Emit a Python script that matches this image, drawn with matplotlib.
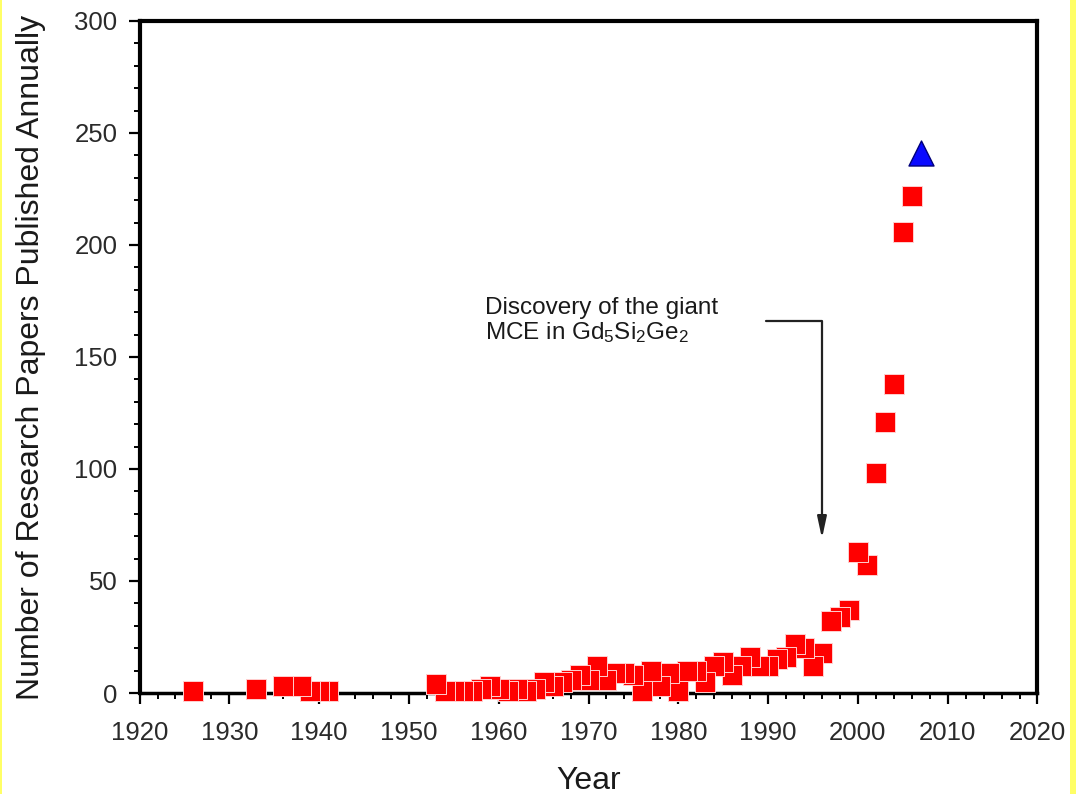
import matplotlib
matplotlib.use("Agg")
import matplotlib.pyplot as plt
from matplotlib.patches import Rectangle
from matplotlib.ticker import MultipleLocator

plt.rcParams['font.family'] = ['Liberation Sans', 'DejaVu Sans']
plt.rcParams['mathtext.default'] = 'regular'

# Annual paper counts (red squares) and the projected count for 2007 (blue triangle)
years = [1926, 1933, 1936, 1938, 1939, 1940, 1941,
         1953, 1954, 1955, 1956, 1957, 1958, 1959, 1960, 1961, 1962, 1963, 1964,
         1965, 1966, 1967, 1968, 1969, 1970, 1971, 1972, 1973, 1974, 1975, 1976,
         1977, 1978, 1979, 1980, 1981, 1982, 1983, 1984, 1985, 1986, 1987, 1988,
         1989, 1990, 1991, 1992, 1993, 1994, 1995, 1996, 1997, 1998, 1999,
         2000, 2001, 2002, 2003, 2004, 2005, 2006]
papers = [1, 2, 3, 3, 1, 1, 1,
          4, 1, 1, 1, 1, 2, 3, 2, 1, 2, 1, 2,
          5, 3, 5, 6, 8, 6, 12, 6, 9, 9, 8, 1,
          10, 3, 9, 1, 10, 10, 5, 12, 14, 8, 12, 16,
          12, 12, 15, 16, 22, 20, 12, 18, 32, 34, 37,
          63, 57, 98, 121, 138, 206, 222]
proj_year = [2007]
proj_papers = [241]

x_ticks = list(range(1920, 2021, 10))
y_ticks = list(range(0, 301, 50))

fig = plt.figure(figsize=(10.76, 7.94), dpi=100)
fig.patch.set_facecolor('white')
# yellow side strips of the slide
fig.add_artist(Rectangle((0, 0), 2 / 1076, 1, transform=fig.transFigure,
                         facecolor='#ffff66', edgecolor='none', zorder=0))
fig.add_artist(Rectangle((1070 / 1076, 0), 6 / 1076, 1, transform=fig.transFigure,
                         facecolor='#ffff66', edgecolor='none', zorder=0))

ax = fig.add_axes([0.1297, 0.1272, 0.9642 - 0.1297, 0.9736 - 0.1272])

# earlier years are layered on top of later ones
ax.scatter(years[::-1], papers[::-1], marker='s', s=14.5 ** 2, c='#ff0000',
           edgecolors='#ffd0d0', linewidths=0.7, zorder=3, clip_on=False)
ax.scatter(proj_year, proj_papers, marker='^', s=18 ** 2, c='#0a0aff',
           edgecolors='#00007a', linewidths=1.0, zorder=3, clip_on=False)

ax.set_xlim(x_ticks[0], x_ticks[-1])
ax.set_ylim(y_ticks[0], y_ticks[-1])
ax.set_xticks(x_ticks)
ax.set_yticks(y_ticks)
ax.xaxis.set_minor_locator(MultipleLocator(2))
ax.yaxis.set_minor_locator(MultipleLocator(10))

for side in ax.spines.values():
    side.set_linewidth(3)
    side.set_color('black')
ax.spines['bottom'].set_linewidth(2.5)
ax.tick_params(which='major', direction='out', length=8, width=1.6,
               colors='black', labelcolor='#2a2a2a', labelsize=18.5)
ax.tick_params(which='minor', direction='out', length=4, width=1.4, colors='black')
ax.tick_params(axis='x', which='major', pad=12)
ax.tick_params(axis='y', which='major', pad=8)
ax.tick_params(top=False, right=False, which='both')

ax.set_xlabel('Year', fontsize=23, color='#1a1a1a', labelpad=15)
ax.set_ylabel('Number of Research Papers Published Annually', fontsize=23,
              color='#1a1a1a', labelpad=20)

ax.text(1958.5, 166, 'Discovery of the giant\nMCE in Gd$_5$Si$_2$Ge$_2$',
        fontsize=17.5, color='#1a1a1a', ha='left', va='center', linespacing=1.05)
ax.annotate('', xy=(1996.0, 69), xytext=(1989.8, 166),
            arrowprops=dict(arrowstyle='-|>,head_length=0.65,head_width=0.14',
                            connectionstyle='angle,angleA=0,angleB=90,rad=0',
                            color='#222222', lw=1.6, mutation_scale=20,
                            shrinkA=0, shrinkB=0))

fig.savefig('out.png', dpi=100)
